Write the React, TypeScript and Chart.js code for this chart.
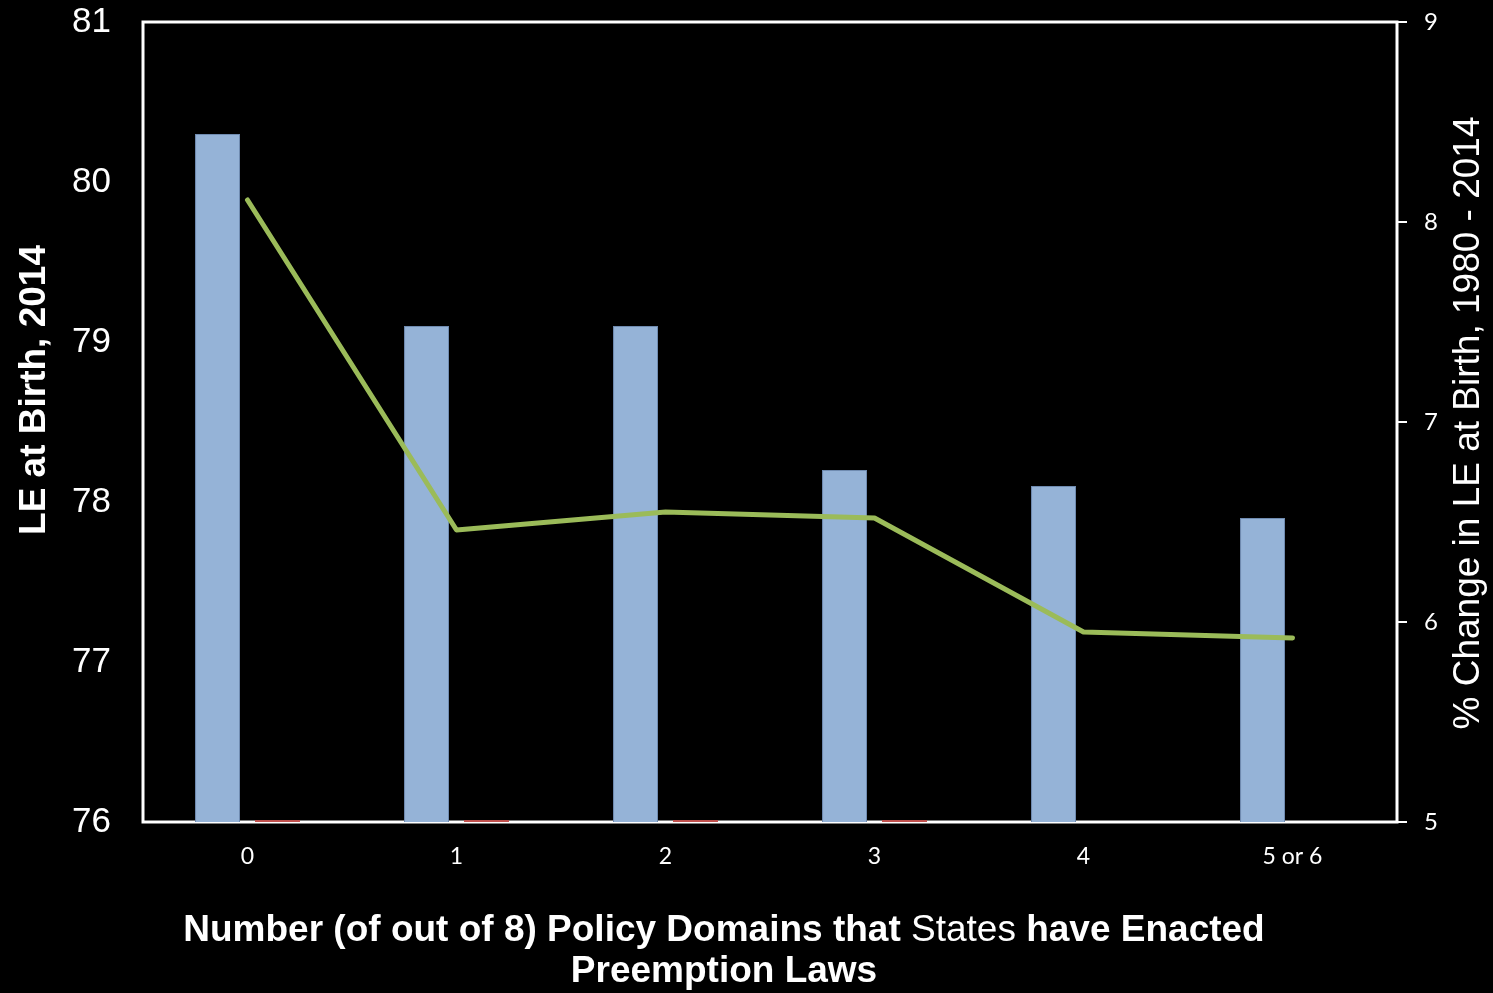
import React, { useEffect, useRef } from "react";
import { Chart, registerables } from "chart.js";

Chart.register(...registerables);

// Categories: number of policy domains with state preemption laws
const categories = ["0", "1", "2", "3", "4", "5 or 6"];
// Life expectancy at birth, 2014 (left axis)
const leAtBirth2014 = [80.3, 79.1, 79.1, 78.2, 78.1, 77.9];
// Thin companion series sitting on the baseline
const baselineSeries = [76.012, 76.012, 76.012, 76.012, null, null];
// Percent change in LE at birth, 1980 - 2014 (right axis)
const pctChange = [8.11, 6.46, 6.55, 6.52, 5.95, 5.92];

const leftTicks = [76, 77, 78, 79, 80, 81];
const rightTicks = [5, 6, 7, 8, 9];

const ARIAL = "'Liberation Sans', Arial, sans-serif";
const CAL = "Lato, 'Open Sans', sans-serif";
const TITLE_SIZE = 37;

const framePlugin = {
  id: "frame",
  beforeDatasetsDraw(chart: any) {
    const { ctx, chartArea } = chart;
    ctx.save();
    ctx.strokeStyle = "#ffffff";
    ctx.lineWidth = 3;
    ctx.strokeRect(chartArea.left, chartArea.top, chartArea.right - chartArea.left, chartArea.bottom - chartArea.top);
    ctx.restore();
  },
  afterDraw(chart: any) {
    const { ctx } = chart;
    ctx.save();
    ctx.fillStyle = "#ffffff";
    ctx.textBaseline = "middle";
    ctx.textAlign = "center";

    // Left axis title
    ctx.save();
    ctx.translate(35, 390);
    ctx.rotate(-Math.PI / 2);
    ctx.font = `bold ${TITLE_SIZE}px ${ARIAL}`;
    ctx.fillText("LE at Birth, 2014", 0, 0);
    ctx.restore();

    // Right axis title
    ctx.save();
    ctx.translate(1469, 423);
    ctx.rotate(-Math.PI / 2);
    ctx.font = `${TITLE_SIZE}px ${ARIAL}`;
    ctx.fillText("% Change in LE at Birth, 1980 - 2014", 0, 0);
    ctx.restore();

    // X axis title, mixed weights
    const line1 = [
      { t: "Number (of out of 8) Policy Domains that ", b: true },
      { t: "States ", b: false },
      { t: "have Enacted", b: true },
    ];
    ctx.textAlign = "left";
    let total = 0;
    for (const s of line1) {
      ctx.font = `${s.b ? "bold " : ""}${TITLE_SIZE}px ${ARIAL}`;
      total += ctx.measureText(s.t).width;
    }
    let x = 724 - total / 2;
    for (const s of line1) {
      ctx.font = `${s.b ? "bold " : ""}${TITLE_SIZE}px ${ARIAL}`;
      ctx.fillText(s.t, x, 931);
      x += ctx.measureText(s.t).width;
    }
    ctx.textAlign = "center";
    ctx.font = `bold ${TITLE_SIZE}px ${ARIAL}`;
    ctx.fillText("Preemption Laws", 724, 972);
    ctx.restore();
  },
};

export default function App() {
  const ref = useRef<HTMLCanvasElement>(null);

  useEffect(() => {
    document.body.style.margin = "0";
    document.body.style.background = "#000";
    const chart = new Chart(ref.current as HTMLCanvasElement, {
      type: "bar",
      data: {
        labels: categories,
        datasets: [
          {
            type: "line",
            data: pctChange,
            yAxisID: "y1",
            borderColor: "#9BBB59",
            borderWidth: 5,
            pointRadius: 0,
            borderCapStyle: "round",
            borderJoinStyle: "round",
            order: 0,
          } as any,
          {
            data: leAtBirth2014,
            yAxisID: "y",
            backgroundColor: "#95B3D7",
            borderColor: "#6F8BB0",
            borderWidth: 1,
            order: 1,
          },
          {
            data: baselineSeries,
            yAxisID: "y",
            backgroundColor: "#C0504D",
            borderWidth: 0,
            order: 2,
          },
        ],
      },
      options: {
        responsive: false,
        animation: false,
        layout: { padding: { top: 22, left: 0, right: 0, bottom: 0 } },
        plugins: { legend: { display: false }, tooltip: { enabled: false } },
        datasets: { bar: { categoryPercentage: 0.574, barPercentage: 0.75 } },
        scales: {
          x: {
            grid: { display: false },
            border: { display: false },
            ticks: { color: "#ffffff", font: { family: CAL, size: 23 }, padding: 13 },
            afterFit: (s: any) => { s.height = 171; s.paddingLeft = 0; s.paddingRight = 0; },
          },
          y: {
            position: "left",
            min: 76,
            max: 81,
            afterBuildTicks: (s: any) => { s.ticks = leftTicks.map((v) => ({ value: v })); },
            grid: { display: false },
            border: { display: false },
            ticks: { color: "#ffffff", font: { family: ARIAL, size: 35 }, padding: 24 },
            afterFit: (s: any) => { s.width = 143; s.paddingTop = 0; s.paddingBottom = 0; },
          },
          y1: {
            position: "right",
            min: 5,
            max: 9,
            afterBuildTicks: (s: any) => { s.ticks = rightTicks.map((v) => ({ value: v })); },
            grid: { display: true, drawOnChartArea: false, drawTicks: true, tickLength: 10, color: "#ffffff", lineWidth: 2 },
            border: { display: false },
            ticks: { color: "#ffffff", font: { family: CAL, size: 24 }, padding: 17 },
            afterFit: (s: any) => { s.width = 96; s.paddingTop = 0; s.paddingBottom = 0; },
          },
        },
      },
      plugins: [framePlugin],
    });
    return () => chart.destroy();
  }, []);

  return (
    <div style={{ width: 1493, height: 993, background: "#000" }}>
      <canvas ref={ref} width={1493} height={993} style={{ display: "block" }} />
    </div>
  );
}
